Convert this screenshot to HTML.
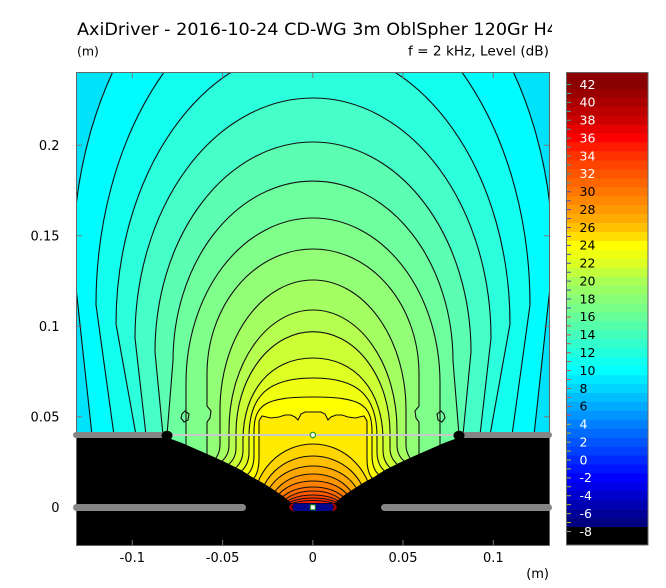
<!DOCTYPE html>
<html><head><meta charset="utf-8"><style>html,body{margin:0;padding:0;background:#fff;}svg{display:block;}</style></head>
<body>
<svg width="666" height="588" viewBox="0 0 666 588" xmlns="http://www.w3.org/2000/svg" font-family="'DejaVu Sans','Liberation Sans',sans-serif">
<defs>
<clipPath id="pc"><rect x="76.5" y="72.5" width="473" height="473"/></clipPath>
<clipPath id="tc"><rect x="0" y="0" width="552" height="62"/></clipPath>
</defs>
<rect width="666" height="588" fill="#fff"/>

<!-- Titles -->
<text clip-path="url(#tc)" x="77" y="35" font-size="17" textLength="481" lengthAdjust="spacingAndGlyphs" fill="#000">AxiDriver - 2016-10-24 CD-WG 3m OblSpher 120Gr H4</text>
<text x="77" y="55.5" font-size="12.5" fill="#000">(m)</text>
<text x="408" y="55.5" font-size="13" textLength="141" lengthAdjust="spacingAndGlyphs" fill="#000">f = 2 kHz, Level  (dB)</text>

<!-- Plot field -->
<g clip-path="url(#pc)">
<rect x="76" y="72" width="474" height="474" fill="#00E2FA"/>
<g stroke="#111" stroke-width="1.1">
<path fill="#00FCFF" d="M92,560 L92,435 L73,260 A240,341 0 0 1 553,260 L534,435 L534,560 Z"/>
<path fill="#12FFF0" d="M114,560 L114,435 L96,305 A217,320 0 0 1 530,305 L512,435 L512,560 Z"/>
<path fill="#2CFFDC" d="M136,560 L136,435 L116,324 A197,277 0 0 1 510,324 L490,435 L490,560 Z"/>
<path fill="#46FFC8" d="M146,560 L146,435 L135,338 A178,240 0 0 1 491,338 L480,435 L480,560 Z"/>
<path fill="#5CFFB2" d="M163,560 L163,435 L155,352 A158,210 0 0 1 471,352 L463,435 L463,560 Z"/>
<path fill="#6EFF9E" d="M167,560 L167,435 L173,361 A140,180 0 0 1 453,361 L459,435 L459,560 Z"/>
<path fill="#80FF8A" d="M186,560 L186,383 A127,165 0 0 1 440,383 L440,560 Z"/>
<path fill="#92FF76" d="M207,560 L207,422 L210,418 L211,411 L207,406 L207,374 A106,125 0 0 1 419,374 L419,406 L415,411 L416,418 L419,422 L419,560 Z"/>
<path fill="#A4FF62" d="M210,560 L216,458 Q220,452 220,445 L220,410 A93,130 0 0 1 406,410 L406,445 Q406,452 410,458 L416,560 Z"/>
<path fill="#B6FF50" d="M215,560 L222,461 Q229,455 229,445 L229,430 A84,120 0 0 1 397,430 L397,445 Q397,455 404,461 L411,560 Z"/>
<path fill="#CCFF36" d="M222,560 L229,464 Q236,458 236,448 L236,433 A76,100 0 0 1 390,433 L390,448 Q390,458 397,464 L404,560 Z"/>
<path fill="#DEFF24" d="M229,560 L236,467.5 Q243,461 243,450 L243,440 C243,390.8 271,358 313,358 C355,358 383,390.8 383,440 L383,450 Q383,461 390,467.5 L397,560 Z"/>
<path fill="#F0FF12" d="M235,560 L242,470.5 Q249,464 249,452 L249,437 C249,395.7 268.2,378 313,378 C357.8,378 377,395.7 377,437 L377,452 Q377,464 384,470.5 L391,560 Z"/>
<path fill="#FFFF00" d="M241,560 L248,474 Q254,468 254,455 L254,432 C254,404 265.8,397 313,397 C360.2,397 372,404 372,432 L372,455 Q372,468 378,474 L385,560 Z"/>
<path fill="#FFEA00" d="M247,560 L254,478 Q259,472 259,458 L259,421 L262,416 L271,418 L279,417 L285,415 L291,415 L295,417 L298,420 L301,414 L305,412 L313,412 L321,412 L325,414 L328,420 L331,417 L336,415 L342,415 L348,417 L355,418 L364,416 L367,421 L367,458 Q367,472 372,478 L379,560 Z"/>
<ellipse fill="#FFD500" cx="313" cy="507" rx="60" ry="63"/>
<ellipse fill="#FFBF00" cx="313" cy="507" rx="54" ry="51"/>
<ellipse fill="#FFA800" cx="313" cy="507" rx="49" ry="41"/>
<ellipse fill="#FF9400" cx="313" cy="507" rx="43" ry="33"/>
<ellipse fill="#FF8000" cx="313" cy="507" rx="39" ry="26"/>
<ellipse fill="#FF6C00" cx="313" cy="507" rx="35" ry="20"/>
<ellipse fill="#FF5800" cx="313" cy="507" rx="31" ry="16"/>
<ellipse fill="#FF4400" cx="313" cy="507" rx="29" ry="12"/>
<ellipse fill="#FF3000" cx="313" cy="507" rx="27" ry="9"/>
<ellipse fill="#FF1C00" cx="313" cy="507" rx="25" ry="6.5"/>
<!-- small loops -->
<path fill="none" d="M182,414 L185,411 L189,414 L188,420 L184,422 L181,418 Z"/>
<path fill="none" d="M444,414 L441,411 L437,414 L438,420 L442,422 L445,418 Z"/>
</g>
<!-- black geometry -->
<path fill="#000" d="M76,436 L163,436 L182,443 L198,450 L214,457 L227,463 L241,470 L252,477 L263,483 L274,490 L283,496 L291,503 L335,503 L343,496 L352,490 L363,483 L374,477 L385,470 L399,463 L412,457 L428,450 L444,443 L463,436 L550,436 L550,546 L76,546 Z"/>
</g>

<!-- thin mouth line -->
<line x1="172" y1="435" x2="455" y2="435" stroke="#C8C8C8" stroke-width="2"/>

<!-- frame -->
<rect x="76.5" y="72.5" width="473" height="473" fill="none" stroke="#666" stroke-width="1"/>
<g stroke="#777" stroke-width="1">
<path d="M132.3,73 V78 M222.6,73 V78 M312.8,73 V78 M403,73 V78 M493.3,73 V78"/>
<path d="M132.3,545 V540 M222.6,545 V540 M312.8,545 V540 M403,545 V540 M493.3,545 V540"/>
<path d="M77,145.3 H82 M77,235.8 H82 M77,326.3 H82 M77,416.8 H82 M77,507.3 H82"/>
<path d="M549,145.3 H544 M549,235.8 H544 M549,326.3 H544 M549,416.8 H544 M549,507.3 H544"/>
</g>

<!-- gray baffle bars -->
<rect x="73" y="432" width="94" height="6" rx="3" fill="#858585"/>
<rect x="459" y="432" width="93" height="6" rx="3" fill="#858585"/>
<rect x="73" y="504" width="173" height="7" rx="3.5" fill="#858585"/>
<rect x="381" y="504" width="171" height="7" rx="3.5" fill="#858585"/>
<ellipse cx="167" cy="435.5" rx="5.5" ry="4.8" fill="#000"/>
<ellipse cx="459" cy="435.5" rx="5.5" ry="4.8" fill="#000"/>

<!-- driver -->
<rect x="293" y="503.5" width="40" height="7.5" fill="#06068C"/>
<path fill="#A80000" d="M294.5,503 C288,504 287,510 294.5,511.5 C291.5,509 291.5,505.5 294.5,503 Z"/>
<path fill="#A80000" d="M331.5,503 C338,504 339,510 331.5,511.5 C334.5,509 334.5,505.5 331.5,503 Z"/>

<!-- markers -->
<circle cx="312.8" cy="435" r="2.7" fill="#fff" stroke="#0A8A0A" stroke-width="1"/>
<rect x="310.3" y="504.8" width="5" height="5" fill="#fff" stroke="#0A8A0A" stroke-width="1"/>

<!-- axis labels -->
<g font-size="13" fill="#000" text-anchor="middle">
<text x="132.3" y="562">-0.1</text>
<text x="222.6" y="562">-0.05</text>
<text x="312.8" y="562">0</text>
<text x="403" y="562">0.05</text>
<text x="493.3" y="562">0.1</text>
</g>
<g font-size="13" fill="#000" text-anchor="end">
<text x="59.5" y="150">0.2</text>
<text x="59.5" y="240.5">0.15</text>
<text x="59.5" y="331">0.1</text>
<text x="59.5" y="421.5">0.05</text>
<text x="59.5" y="512">0</text>
<text x="549" y="578">(m)</text>
</g>

<!-- colorbar -->
<g>
<rect x="566" y="72" width="82" height="17.2" fill="#8B0000"/>
<rect x="566" y="88.97" width="82" height="9.2" fill="#9B0000"/>
<rect x="566" y="97.91" width="82" height="9.2" fill="#AB0000"/>
<rect x="566" y="106.85" width="82" height="9.2" fill="#BC0000"/>
<rect x="566" y="115.79" width="82" height="9.2" fill="#CD0000"/>
<rect x="566" y="124.73" width="82" height="9.2" fill="#E60000"/>
<rect x="566" y="133.67" width="82" height="9.2" fill="#FF0000"/>
<rect x="566" y="142.61" width="82" height="9.2" fill="#FF1A00"/>
<rect x="566" y="151.55" width="82" height="9.2" fill="#FF3300"/>
<rect x="566" y="160.49" width="82" height="9.2" fill="#FF4400"/>
<rect x="566" y="169.43" width="82" height="9.2" fill="#FF5500"/>
<rect x="566" y="178.37" width="82" height="9.2" fill="#FF6600"/>
<rect x="566" y="187.31" width="82" height="9.2" fill="#FF7700"/>
<rect x="566" y="196.25" width="82" height="9.2" fill="#FF8800"/>
<rect x="566" y="205.19" width="82" height="9.2" fill="#FF9900"/>
<rect x="566" y="214.13" width="82" height="9.2" fill="#FFAA00"/>
<rect x="566" y="223.07" width="82" height="9.2" fill="#FFC000"/>
<rect x="566" y="232.01" width="82" height="9.2" fill="#FFDD00"/>
<rect x="566" y="240.95" width="82" height="9.2" fill="#FFFF00"/>
<rect x="566" y="249.89" width="82" height="9.2" fill="#EEFF11"/>
<rect x="566" y="258.83" width="82" height="9.2" fill="#DDFF22"/>
<rect x="566" y="267.77" width="82" height="9.2" fill="#C4FF3B"/>
<rect x="566" y="276.71" width="82" height="9.2" fill="#AAFF55"/>
<rect x="566" y="285.65" width="82" height="9.2" fill="#99FF66"/>
<rect x="566" y="294.59" width="82" height="9.2" fill="#88FF77"/>
<rect x="566" y="303.53" width="82" height="9.2" fill="#77FF88"/>
<rect x="566" y="312.47" width="82" height="9.2" fill="#66FF99"/>
<rect x="566" y="321.41" width="82" height="9.2" fill="#55FFAA"/>
<rect x="566" y="330.35" width="82" height="9.2" fill="#44FFBB"/>
<rect x="566" y="339.29" width="82" height="9.2" fill="#33FFCC"/>
<rect x="566" y="348.23" width="82" height="9.2" fill="#22FFDD"/>
<rect x="566" y="357.17" width="82" height="9.2" fill="#11FFEE"/>
<rect x="566" y="366.11" width="82" height="9.2" fill="#00FFFF"/>
<rect x="566" y="375.05" width="82" height="9.2" fill="#00EAFF"/>
<rect x="566" y="383.99" width="82" height="9.2" fill="#00D5FF"/>
<rect x="566" y="392.93" width="82" height="9.2" fill="#00BFFF"/>
<rect x="566" y="401.87" width="82" height="9.2" fill="#00AAFF"/>
<rect x="566" y="410.81" width="82" height="9.2" fill="#0095FF"/>
<rect x="566" y="419.75" width="82" height="9.2" fill="#0080FF"/>
<rect x="566" y="428.69" width="82" height="9.2" fill="#006AFF"/>
<rect x="566" y="437.63" width="82" height="9.2" fill="#0055FF"/>
<rect x="566" y="446.57" width="82" height="9.2" fill="#0040FF"/>
<rect x="566" y="455.51" width="82" height="9.2" fill="#002AFF"/>
<rect x="566" y="464.45" width="82" height="9.2" fill="#0015FF"/>
<rect x="566" y="473.39" width="82" height="9.2" fill="#0000FF"/>
<rect x="566" y="482.33" width="82" height="9.2" fill="#0000E6"/>
<rect x="566" y="491.27" width="82" height="9.2" fill="#0000CC"/>
<rect x="566" y="500.21" width="82" height="9.2" fill="#0000B3"/>
<rect x="566" y="509.15" width="82" height="9.2" fill="#000099"/>
<rect x="566" y="518.09" width="82" height="9.2" fill="#000080"/>
<rect x="566" y="527.03" width="82" height="18" fill="#000000"/>
</g>
<g stroke-width="1">
<path stroke="#30A8A8" d="M566.5,84.5H571M566.5,93.44H571M566.5,102.38H571M566.5,111.32H571M566.5,120.26H571M566.5,129.2H571M566.5,138.14H571M566.5,147.08H571M566.5,156.02H571M566.5,164.96H571M566.5,173.9H571M566.5,182.84H571"/>
<path stroke="#4848C8" d="M566.5,191.78H571M566.5,200.72H571M566.5,209.66H571M566.5,218.6H571M566.5,227.54H571M566.5,236.48H571M566.5,245.42H571M566.5,254.36H571M566.5,263.3H571M566.5,272.24H571M566.5,281.18H571M566.5,290.12H571M566.5,299.06H571M566.5,308H571"/>
<path stroke="#E04040" d="M566.5,316.94H571M566.5,325.88H571M566.5,334.82H571M566.5,343.76H571M566.5,352.7H571M566.5,361.64H571M566.5,370.58H571M566.5,379.52H571M566.5,388.46H571M566.5,397.4H571M566.5,406.34H571M566.5,415.28H571"/>
<path stroke="#B8B820" d="M566.5,424.22H571M566.5,433.16H571M566.5,442.1H571M566.5,451.04H571M566.5,459.98H571M566.5,468.92H571M566.5,477.86H571M566.5,486.8H571M566.5,495.74H571M566.5,504.68H571M566.5,513.62H571M566.5,522.56H571"/>
<path stroke="#999" d="M566.5,531.5H571"/>
</g>
<rect x="566.5" y="72.5" width="81.5" height="472.5" fill="none" stroke="#666" stroke-width="1"/>
<g font-size="12.5" fill="#fff">
<text x="579.5" y="88.8">42</text>
<text x="579.5" y="106.7">40</text>
<text x="579.5" y="124.6">38</text>
<text x="579.5" y="142.4">36</text>
<text x="579.5" y="160.3">34</text>
<text x="579.5" y="178.2">32</text>
</g>
<g font-size="12.5" fill="#000">
<text x="579.5" y="196.1">30</text>
<text x="579.5" y="214">28</text>
<text x="579.5" y="231.8">26</text>
<text x="579.5" y="249.7">24</text>
<text x="579.5" y="267.6">22</text>
<text x="579.5" y="285.5">20</text>
<text x="579.5" y="303.4">18</text>
<text x="579.5" y="321.2">16</text>
<text x="579.5" y="339.1">14</text>
<text x="579.5" y="357">12</text>
<text x="579.5" y="374.9">10</text>
<text x="579.5" y="392.8">8</text>
<text x="579.5" y="410.6">6</text>
</g>
<g font-size="12.5" fill="#fff">
<text x="579.5" y="428.5">4</text>
<text x="579.5" y="446.4">2</text>
<text x="579.5" y="464.3">0</text>
<text x="579.5" y="482.2">-2</text>
<text x="579.5" y="500">-4</text>
<text x="579.5" y="517.9">-6</text>
<text x="579.5" y="535.8">-8</text>
</g>
</svg>
</body></html>
